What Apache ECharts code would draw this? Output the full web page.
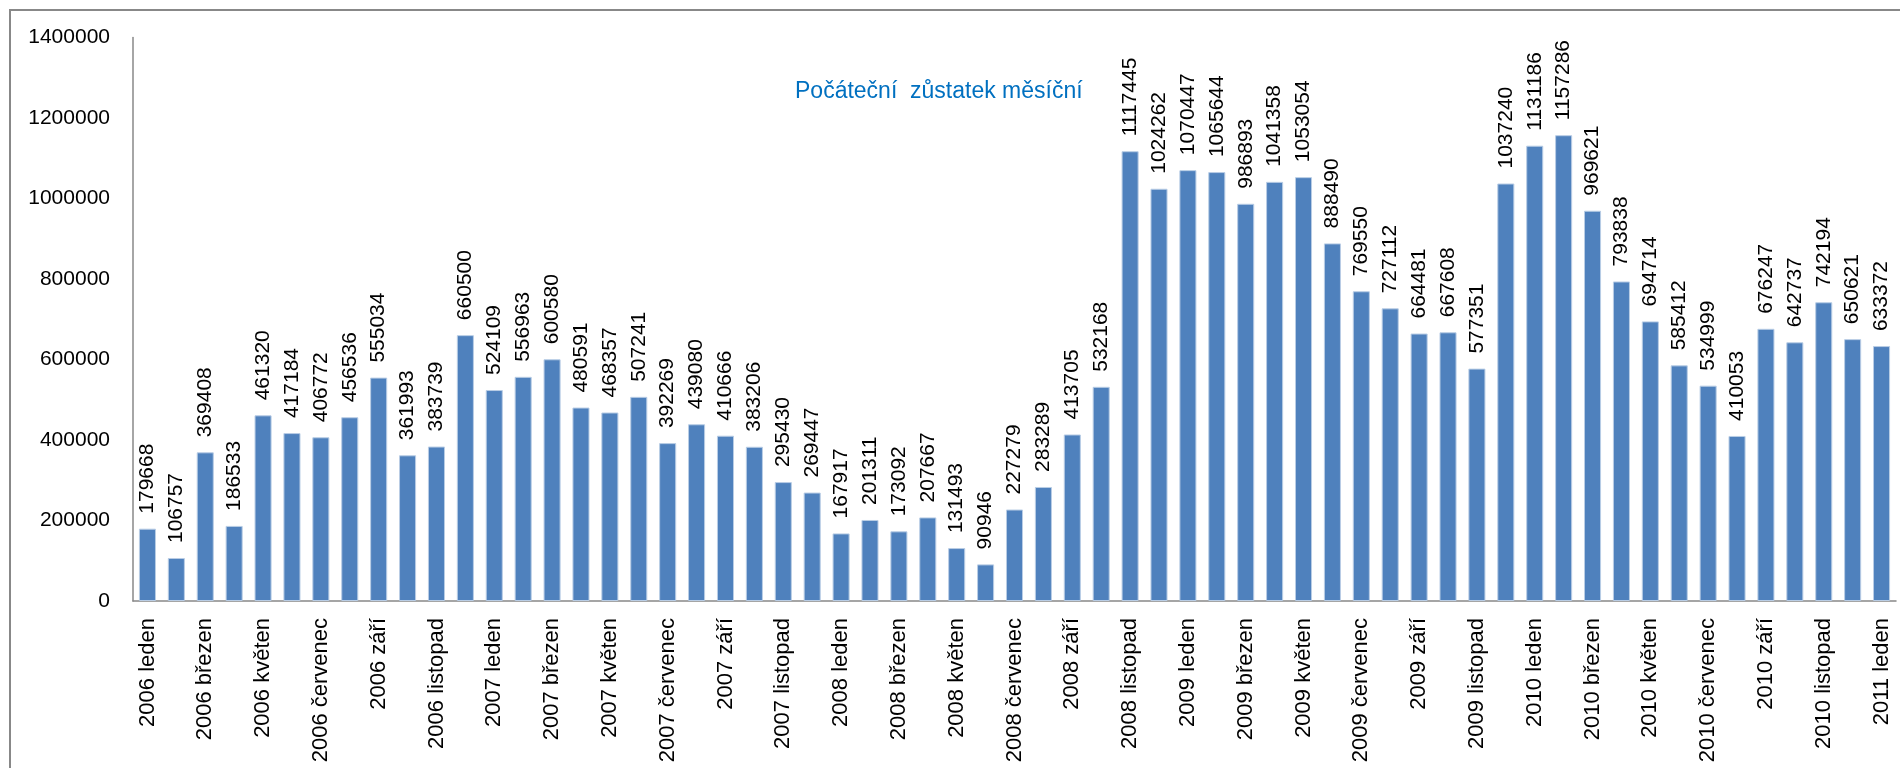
<!DOCTYPE html>
<html>
<head>
<meta charset="utf-8">
<script src="https://cdn.jsdelivr.net/npm/echarts@6/dist/echarts.min.js"></script>
<style>
html,body{margin:0;padding:0;background:#fff;}
#chart{width:1900px;height:768px;}
</style>
</head>
<body>
<div id="chart"></div>
<script>
const monthNames = ['leden','únor','březen','duben','květen','červen','červenec','srpen','září','říjen','listopad','prosinec'];
const years = [2006, 2007, 2008, 2009, 2010, 2011];
const monthCount = 61;
const titleText = 'Počáteční  zůstatek měsíční';
const yTicks = [0, 200000, 400000, 600000, 800000, 1000000, 1200000, 1400000];
const values = [
  179668, 106757, 369408, 186533, 461320, 417184, 406772, 456536, 555034, 361993, 383739, 660500,
  524109, 556963, 600580, 480591, 468357, 507241, 392269, 439080, 410666, 383206, 295430, 269447,
  167917, 201311, 173092, 207667, 131493, 90946, 227279, 283289, 413705, 532168, 1117445, 1024262,
  1070447, 1065644, 986893, 1041358, 1053054, 888490, 769550, 727112, 664481, 667608, 577351, 1037240,
  1131186, 1157286, 969621, 793838, 694714, 585412, 534999, 410053, 676247, 642737, 742194, 650621,
  633372
];
const categories = [];
for (let i = 0; i < monthCount; i++) {
  categories.push(years[Math.floor(i / 12)] + ' ' + monthNames[i % 12]);
}

const FONT = 'Liberation Sans';
const chart = echarts.init(document.getElementById('chart'));
chart.setOption({
  animation: false,
  backgroundColor: '#fff',
  title: {
    text: titleText,
    left: 795,
    top: 80,
    padding: 0,
    textStyle: { color: '#0070C0', fontSize: 23, fontWeight: 'normal', fontFamily: FONT }
  },
  graphic: [{
    type: 'rect',
    shape: { x: 10, y: 10, width: 1920, height: 800 },
    style: { fill: 'none', stroke: '#888', lineWidth: 2 },
    silent: true
  }],
  grid: { left: 133, right: 4, top: 37.5, bottom: 167, containLabel: false },
  xAxis: {
    type: 'category',
    data: categories,
    axisLine: { lineStyle: { color: '#888', width: 1.5 } },
    axisTick: { show: false },
    axisLabel: { interval: 1, rotate: 90, margin: 17, color: '#000', fontSize: 22, fontFamily: FONT }
  },
  yAxis: {
    type: 'value',
    min: yTicks[0],
    max: yTicks[yTicks.length - 1],
    interval: yTicks[1] - yTicks[0],
    axisLine: { show: true, lineStyle: { color: '#888', width: 1.5 } },
    axisTick: { show: false },
    splitLine: { show: false },
    axisLabel: { margin: 23, color: '#000', fontSize: 21, fontFamily: FONT, formatter: v => String(v) }
  },
  series: [{
    type: 'bar',
    data: values,
    barCategoryGap: '41%',
    itemStyle: { color: '#4F81BD', borderColor: '#B9CDE5', borderWidth: 1 },
    label: {
      show: true,
      position: 'top',
      rotate: 90,
      align: 'left',
      verticalAlign: 'middle',
      distance: 15,
      color: '#000',
      fontSize: 21,
      fontFamily: FONT,
      formatter: p => String(p.value)
    }
  }]
});
</script>
</body>
</html>
